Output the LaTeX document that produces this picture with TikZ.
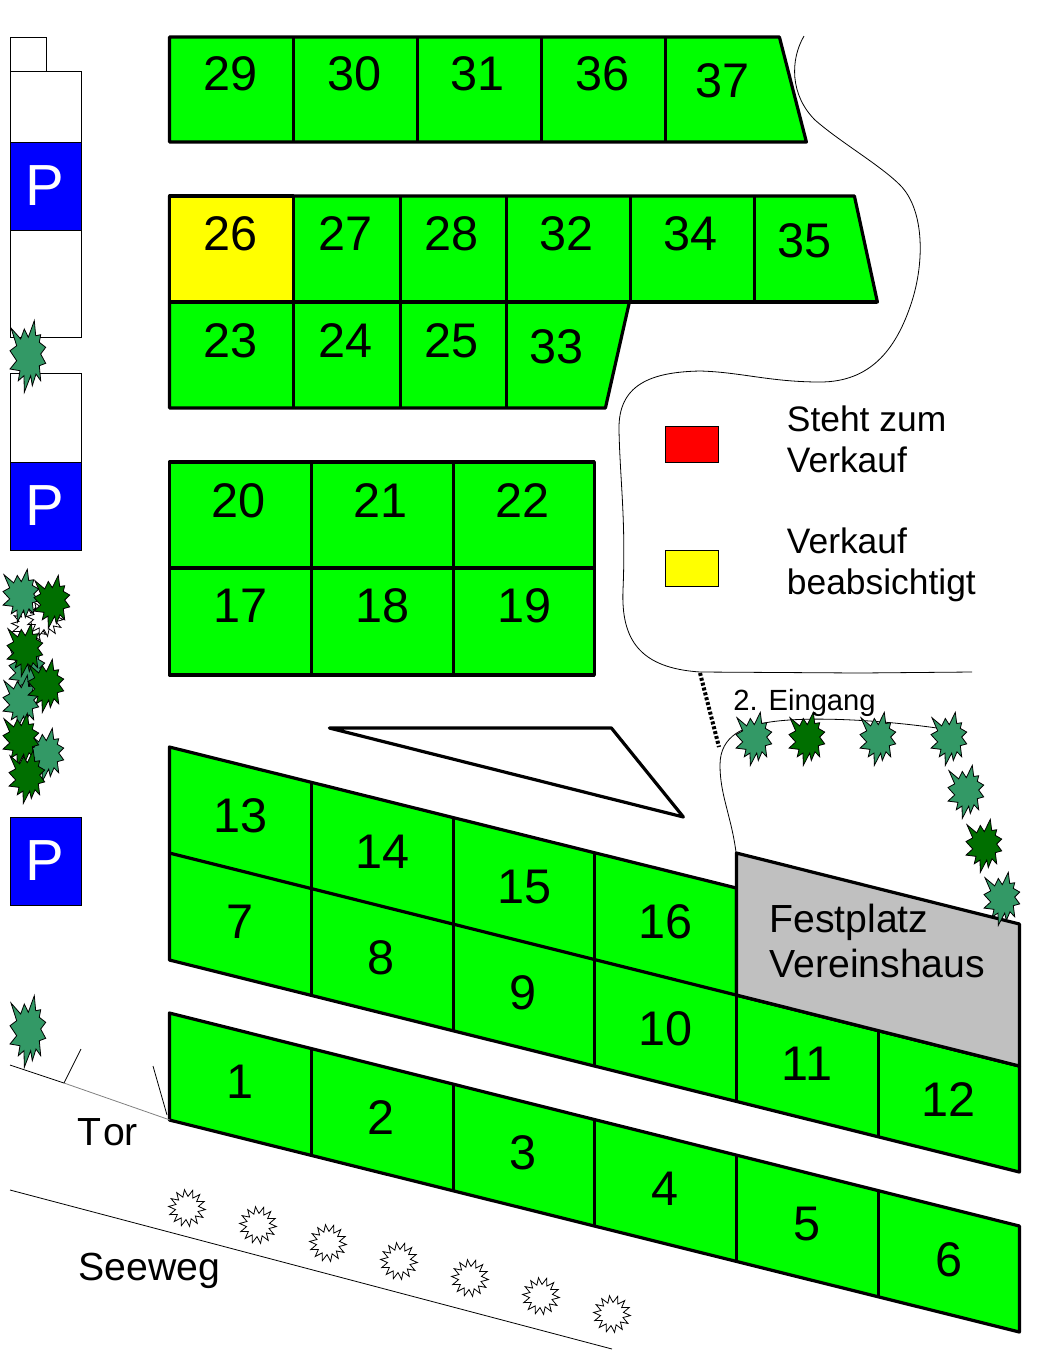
\documentclass[tikz,border=0pt]{standalone}
\usepackage{fontspec}
\setmainfont{Liberation Sans}
\usetikzlibrary{shapes.geometric}

\definecolor{lotgreen}{HTML}{00FF00}
\definecolor{lotyellow}{HTML}{FFFF00}
\definecolor{placegray}{HTML}{C0C0C0}
\definecolor{parkblue}{HTML}{0000FF}
\definecolor{bushmid}{HTML}{339966}
\definecolor{bushdark}{HTML}{006F00}

\tikzset{
  lot/.style={draw=black, fill=lotgreen, line width=1.6pt, line join=round},
  thinline/.style={draw=black, line width=0.4pt},
  lotlabel/.style={inner sep=0pt, font=\fontsize{24.3}{28}\selectfont},
  biglabel/.style={inner sep=0pt, anchor=west, align=left, font=\fontsize{19.6}{22.5}\selectfont},
  legendlabel/.style={inner sep=0pt, anchor=west, align=left, font=\fontsize{17.7}{20.5}\selectfont},
  parkbox/.style={fill=parkblue, draw=black, line width=0.5pt},
  parklabel/.style={inner sep=0pt, text=white, font=\fontsize{29}{32}\selectfont},
  shrub/.style={star, star points=14, star point ratio=1.6, minimum size=18.5pt, inner sep=0pt, draw=black, fill=white, line width=0.4pt, rotate=8},
  bushgreen/.style={fill=bushmid, draw=black, line width=0.4pt, yscale=0.74},
  bushdeep/.style={fill=bushdark, draw=black, line width=0.4pt, yscale=0.74},
  treegreen/.style={fill=bushmid, draw=black, line width=0.4pt},
  bush/.pic={
    \path[pic actions] (6.3,-33.3) -- (7.7,-18.3) -- (12.7,-19.3) -- (11.3,-11.7) -- (17.7,-6.7) -- (12.7,0)
      -- (17.7,9.3) -- (11.3,11.7) -- (12.7,26.7) -- (8,20) -- (4.3,31.7) -- (2.7,21.7) -- (-3.7,38.3)
      -- (-4,21.7) -- (-9.7,26.7) -- (-8,16.7) -- (-18,15) -- (-11.3,6.7) -- (-18,-3.3) -- (-11.3,-8.3)
      -- (-17,-26) -- (-7.3,-15) -- (-3.7,-25) -- (0.3,-16.7) -- cycle;
  }
}

\begin{document}
\begin{tikzpicture}[x=0.5pt, y=-0.5pt]
    \useasboundingbox (0,0) rectangle (1045,1351);

    % Parkplaetze
    \draw[thinline] (10,37) rectangle (46,71);
    \draw[thinline] (10,71) rectangle (81,337);
    \draw[thinline] (10,373) rectangle (81,550);
    \foreach \py/\pname in {142/a, 462/b, 817/c} {
        \draw[parkbox] (10,\py) rectangle ++(71,88.5);
        \node[parklabel] (park\pname) at (45,\py+44) {P};
    }

    \begin{scope}[xshift=-0.3pt]
    % Parzellen oben
    \path[lot] (170,37) -- (780,37) -- (807,142) -- (170,142) -- cycle;
    \foreach \lx in {294,418,542,666} \draw[lot] (\lx,37) -- (\lx,142);
    \path[lot] (170,196) -- (855,196) -- (878,302) -- (630,302) -- (606,408) -- (170,408) -- cycle;
    \path[lot, fill=lotyellow] (170,196) rectangle (294,302);
    \draw[lot] (170,302) -- (878,302);
    \foreach \lx in {294,401,507} \draw[lot] (\lx,196) -- (\lx,408);
    \foreach \lx in {631,755} \draw[lot] (\lx,196) -- (\lx,302);
    \path[lot] (170,462) rectangle (595,675);
    \draw[lot] (170,568) -- (595,568);
    \foreach \lx in {312,454} \draw[lot] (\lx,462) -- (\lx,675);

    % Parzellen schraeg
    \path[lot] (170,747) -- (737,888) -- (737,995) -- (1020,1066) -- (1020,1172) -- (170,960) -- cycle;
    \draw[lot] (170,853) -- (1020,1066);
    \draw[lot] (312,782) -- (312,995);
    \draw[lot] (454,818) -- (454,1031);
    \draw[lot] (595,853) -- (595,1066);
    \draw[lot] (737,995) -- (737,1102);
    \draw[lot] (879,1031) -- (879,1137);
    \path[lot] (170,1013) -- (1020,1226) -- (1020,1332) -- (170,1120) -- cycle;
    \draw[lot] (312,1049) -- (312,1155);
    \draw[lot] (454,1084) -- (454,1191);
    \draw[lot] (595,1120) -- (595,1226);
    \draw[lot] (737,1155) -- (737,1262);
    \draw[lot] (879,1191) -- (879,1297);

    % Festplatz und Dreieck
    \path[lot, fill=placegray] (737,853) -- (1020,924) -- (1020,1066) -- (737,995) -- cycle;
    \path[lot, fill=white] (330,728) -- (612,728) -- (684,817) -- cycle;
    \end{scope}

    % Wege
    \draw[thinline] (804,36) .. controls (790,60) and (790,95) .. (815,120)
        .. controls (840,142) and (880,165) .. (900,185)
        .. controls (925,210) and (925,265) .. (910,307)
        .. controls (895,350) and (870,382) .. (820,382)
        .. controls (770,382) and (740,372) .. (700,371)
        .. controls (650,372) and (618,385) .. (619,430)
        .. controls (620,480) and (626,520) .. (623,590)
        .. controls (621,640) and (640,668) .. (700,672)
        -- (860,673) -- (972,672);
    \draw[thinline] (736,852) .. controls (731,815) and (720,795) .. (720,765)
        .. controls (720,735) and (745,726) .. (770,722)
        .. controls (810,716) and (880,720) .. (937,728);
    \draw[line width=2pt, dash pattern=on 1.5pt off 1pt] (700,673) -- (719,747);
    \draw[thinline] (10,1065) -- (64,1083);
    \draw[draw=gray, line width=0.4pt] (64,1083) -- (170,1120);
    \draw[thinline] (64,1083) -- (81,1049);
    \draw[thinline] (167,1115) -- (153,1066);
    \draw[thinline] (10,1190) -- (612,1349);

    % Straeucher
    \foreach \sx/\sy/\sname in {187/1208/a, 258/1225/b, 328/1243/c, 399/1261/d, 470/1278/e, 541/1296/f, 612/1314/g, 30/625/h, 45/618/i}
        \node[shrub] (shrub\sname) at (\sx,\sy) {};
    \foreach \bx/\by in {21/594, 27/668, 21/700, 46/753, 754/737, 878/737, 949/737, 966/790, 1002/897}
        \pic[bushgreen] at (\bx,\by) {bush};
    \foreach \bx/\by in {52/600, 25/648, 46/684, 21/738, 27/775, 807/737, 984/844}
        \pic[bushdeep] at (\bx,\by) {bush};
    \foreach \bx/\by in {28/354, 28/1029}
        \pic[treegreen] at (\bx,\by) {bush};

    % Legende
    \node[fill=red, draw=black, line width=0.4pt, minimum width=26.6pt, minimum height=18pt, inner sep=0pt] (legendred) at (692,444) {};
    \node[fill=lotyellow, draw=black, line width=0.4pt, minimum width=26.6pt, minimum height=18pt, inner sep=0pt] (legendyellow) at (692,568) {};
    \node[legendlabel] (redtext) at (786.5,439) {Steht zum\\Verkauf};
    \node[legendlabel] (yellowtext) at (786.5,565) {Verkauf\\beabsichtigt};

    % Beschriftung
    \foreach \lotnum/\lx/\ly in {29/231/74, 30/355/74, 31/478/74, 36/603/74, 37/723/81,
        26/231/234, 27/346/234, 28/452/234, 32/567/234, 34/691/234, 35/805/241,
        23/231/341, 24/346/341, 25/452/341, 33/557/347,
        20/239/501, 21/381/501, 22/523/501, 17/241/606, 18/383/606, 19/525/606,
        13/241/816, 14/383/852, 15/525/887, 16/666/922,
        7/240/922, 8/381/958, 9/523/993, 10/666/1029, 11/807/1064, 12/949/1100,
        1/240/1082, 2/381/1118, 3/523/1153, 4/665/1189, 5/807/1224, 6/949/1260}
        \node[lotlabel] (lot\lotnum) at (\lx,\ly) {\lotnum};
    \node[biglabel] (festplatz) at (769,941) {Festplatz\\Vereinshaus};
    \node[biglabel] (tor) at (77,1132) {T\kern0.9pt or};
    \node[biglabel] (seeweg) at (78,1271) {Seeweg};
    \node[inner sep=0pt, anchor=west, font=\fontsize{14.6}{17}\selectfont] (eingang) at (733,703) {2. Eingang};
\end{tikzpicture}
\end{document}
